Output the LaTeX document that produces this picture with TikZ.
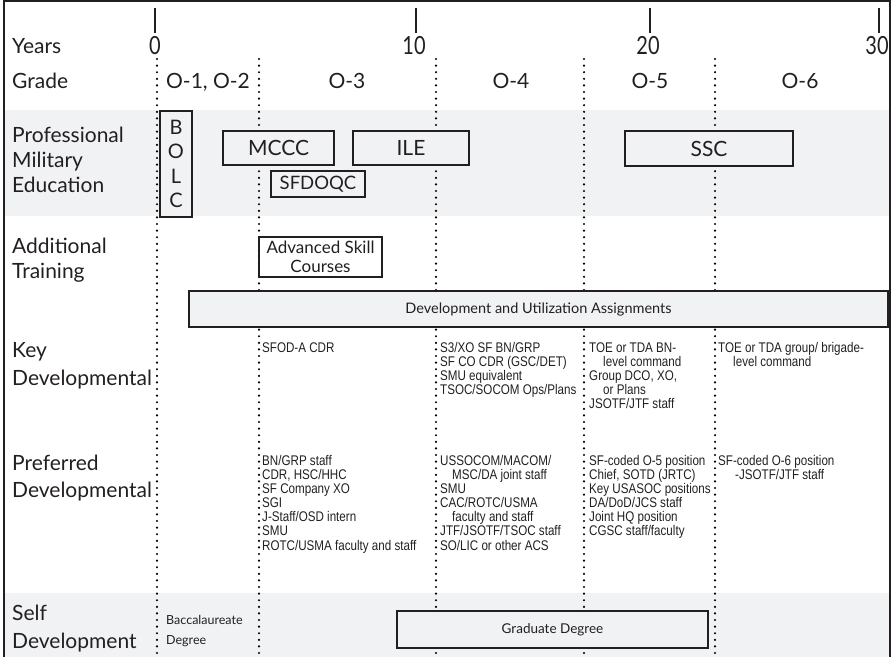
\documentclass[tikz,border=0pt]{standalone}
\usepackage{fontspec}
\setmainfont{Lato}
\newfontfamily\narrowfont[FakeStretch=0.83]{Liberation Sans}
\newfontfamily\digitfont[FakeStretch=0.8]{Lato}
\definecolor{band}{HTML}{F1F2F4}
\definecolor{ink}{HTML}{231F20}
\begin{document}
\begin{tikzpicture}[x=1pt,y=-1pt,
  every node/.style={text=ink, inner sep=0pt},
  lbl/.style={anchor=base west, font=\fontsize{21}{24}\selectfont},
  grd/.style={anchor=base, font=\fontsize{21}{24}\selectfont},
  yr/.style={anchor=base, font=\digitfont\fontsize{25}{28}\selectfont},
  nt/.style={anchor=base west, font=\narrowfont\fontsize{14}{14}\selectfont},
  box/.style={draw=ink, line width=1.8pt, fill=band, align=center},
  dotline/.style={black, line width=2.4pt, dash pattern=on 0pt off 6.6pt, line cap=round},
  frame/.style={ink, line width=2.4pt},
  tick/.style={ink, line width=2pt}]
\useasboundingbox (0,0) rectangle (893,657);
% bands
\fill[band] (5,110) rectangle (889,216);
\fill[band] (5,593) rectangle (889,657);
% grade separators
\foreach \xx in {157,259,436,584,715} \draw[dotline] (\xx,59) -- (\xx,657);
% frame
\draw[frame] (4,657) -- (4,1.2) -- (890,1.2) -- (890,657);
% year ticks
\coordinate (t0a) at (155,8); \coordinate (t0b) at (155,33);
\coordinate (t1a) at (416,8); \coordinate (t1b) at (416,33);
\coordinate (t2a) at (650,8); \coordinate (t2b) at (650,33);
\coordinate (t3a) at (879,8); \coordinate (t3b) at (879,33);
\draw[tick] (t0a) -- (t0b);
\draw[tick] (t1a) -- (t1b);
\draw[tick] (t2a) -- (t2b);
\draw[tick] (t3a) -- (t3b);
\node[yr] (y0) at (155,54) {0};
\node[yr] (y10) at (414,54) {10};
\node[yr] (y20) at (648,54) {20};
\node[yr] (y30) at (877,54) {30};
% row labels
\node[lbl] (years) at (12,53) {Years};
\node[lbl] (grade) at (12,88) {Grade};
\node[lbl] (pme1) at (12,142) {Professional};
\node[lbl] (pme2) at (12,167) {Military};
\node[lbl] (pme3) at (12,192) {Education};
\node[lbl] (at1) at (12,253) {Additional};
\node[lbl] (at2) at (12,278) {Training};
\node[lbl] (kd1) at (12,357) {Key};
\node[lbl] (kd2) at (12,385) {Developmental};
\node[lbl] (pd1) at (12,470) {Preferred};
\node[lbl] (pd2) at (12,497) {Developmental};
\node[lbl] (sd1) at (12,620) {Self};
\node[lbl] (sd2) at (12,648) {Development};
% grades
\node[grd] (g12) at (208,88) {O-1, O-2};
\node[grd] (g3) at (347,88) {O-3};
\node[grd] (g4) at (511,88) {O-4};
\node[grd] (g5) at (650,88) {O-5};
\node[grd] (g6) at (800,88) {O-6};
% PME boxes
\node[box, minimum width=32pt, minimum height=106pt, font=\fontsize{20}{24.5}\selectfont] (bolc) at (176,164) {B\\O\\L\\C};
\node[box, minimum width=111pt, minimum height=34pt, font=\fontsize{21}{24}\selectfont] (mccc) at (278.5,148) {MCCC};
\node[box, minimum width=116pt, minimum height=34pt, font=\fontsize{21}{24}\selectfont] (ile) at (411,148) {ILE};
\node[box, minimum width=94pt, minimum height=26pt, font=\fontsize{18.5}{22}\selectfont] (sfdoqc) at (318,184) {SFDOQC};
\node[box, minimum width=168pt, minimum height=35pt, font=\fontsize{21}{24}\selectfont] (ssc) at (709,148.5) {SSC};
% additional training
\node[box, fill=white, minimum width=123pt, minimum height=40pt, font=\fontsize{17}{19}\selectfont] (asc) at (320.5,257) {Advanced Skill\\Courses};
\node[box, minimum width=699pt, minimum height=36pt, font=\fontsize{14.5}{17}\selectfont] (dua) at (538.5,309) {Development and Utilization Assignments};
% key developmental
\node[nt] (k3a) at (262,352) {SFOD-A CDR};
\node[nt] (k4a) at (440,352) {S3/XO SF BN/GRP};
\node[nt] (k4b) at (440,366) {SF CO CDR (GSC/DET)};
\node[nt] (k4c) at (440,380) {SMU equivalent};
\node[nt] (k4d) at (440,394) {TSOC/SOCOM Ops/Plans};
\node[nt] (k5a) at (589,352) {TOE or TDA BN-};
\node[nt] (k5b) at (603,366) {level command};
\node[nt] (k5c) at (589,380) {Group DCO, XO,};
\node[nt] (k5d) at (603,394) {or Plans};
\node[nt] (k5e) at (589,408) {JSOTF/JTF staff};
\node[nt] (k6a) at (718,352) {TOE or TDA group/ brigade-};
\node[nt] (k6b) at (733,366) {level command};
% preferred developmental
\node[nt] (p3a) at (262,465) {BN/GRP staff};
\node[nt] (p3b) at (262,479) {CDR, HSC/HHC};
\node[nt] (p3c) at (262,493) {SF Company XO};
\node[nt] (p3d) at (262,507) {SGI};
\node[nt] (p3e) at (262,521) {J-Staff/OSD intern};
\node[nt] (p3f) at (262,535) {SMU};
\node[nt] (p3g) at (262,550) {ROTC/USMA faculty and staff};
\node[nt] (p4a) at (440,465) {USSOCOM/MACOM/};
\node[nt] (p4b) at (452,479) {MSC/DA joint staff};
\node[nt] (p4c) at (440,493) {SMU};
\node[nt] (p4d) at (440,507) {CAC/ROTC/USMA};
\node[nt] (p4e) at (452,521) {faculty and staff};
\node[nt] (p4f) at (440,535) {JTF/JSOTF/TSOC staff};
\node[nt] (p4g) at (440,550) {SO/LIC or other ACS};
\node[nt] (p5a) at (589,465) {SF-coded O-5 position};
\node[nt] (p5b) at (589,479) {Chief, SOTD (JRTC)};
\node[nt] (p5c) at (589,493) {Key USASOC positions};
\node[nt] (p5d) at (589,507) {DA/DoD/JCS staff};
\node[nt] (p5e) at (589,521) {Joint HQ position};
\node[nt] (p5f) at (589,535) {CGSC staff/faculty};
\node[nt] (p6a) at (718,465) {SF-coded O-6 position};
\node[nt] (p6b) at (735,479) {-JSOTF/JTF staff};
% self development
\node[anchor=base west, font=\fontsize{12.5}{15}\selectfont] (bac1) at (166,624) {Baccalaureate};
\node[anchor=base west, font=\fontsize{12.5}{15}\selectfont] (bac2) at (166,644) {Degree};
\node[box, minimum width=311pt, minimum height=37pt, font=\fontsize{13.5}{16}\selectfont] (grad) at (552.5,629.5) {Graduate Degree};
\end{tikzpicture}
\end{document}
